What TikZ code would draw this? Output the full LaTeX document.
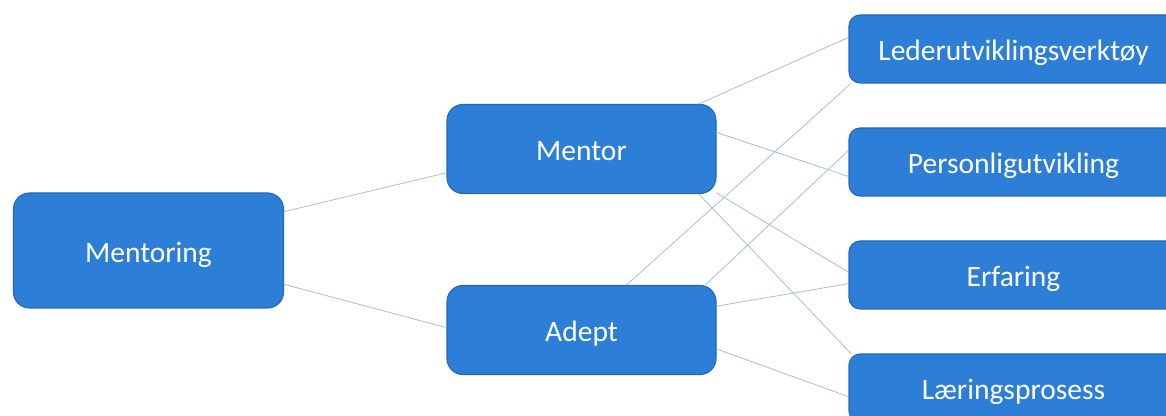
\documentclass[tikz,border=0pt]{standalone}
\usepackage{fontspec}
\setmainfont{Carlito}
\usepackage{tikz}
\usetikzlibrary{positioning,calc}
\definecolor{boxblue}{RGB}{44,126,214}
\definecolor{boxedge}{RGB}{36,104,184}
\definecolor{linkgrey}{RGB}{172,192,214}

\begin{document}
\begin{tikzpicture}[on grid, node distance=2.825cm,
    box/.style={draw=boxedge, fill=boxblue, line width=0.8pt, rounded corners=0.4cm,
      text=white, text height=0.72cm, text depth=0.14cm, font=\fontsize{21}{25}\selectfont},
    bigbox/.style={box, minimum width=6.75cm, minimum height=2.875cm},
    midbox/.style={box, minimum width=6.725cm, minimum height=2.225cm},
    goalbox/.style={box, rounded corners=0.28cm, minimum width=8.225cm, minimum height=1.7cm},
    link/.style={draw=linkgrey, line width=0.6pt}]
      \useasboundingbox (0,0) rectangle (29.15,-10.4);

      \node[bigbox] (mentoring) at (3.7125,-6.2625) {Mentoring};
      \node[midbox, above right= 2.5375cm and 10.825cm of mentoring] (mentor) {Mentor};
      \node[midbox, below= 4.525cm of mentor] (adept) {Adept};

      \node[goalbox, above right= 2.5cm and 10.8cm of mentor] (leder) {Lederutviklingsverktøy};
      \node[goalbox, below=of leder] (personlig) {Personligutvikling};
      \node[goalbox, below=of personlig] (erfaring) {Erfaring};
      \node[goalbox, below=of erfaring] (laering) {Læringsprosess};

      \draw[link] (mentoring.16)  -- (mentor.190);
      \draw[link] (mentoring.-14) -- (adept.179);

      \draw[link] (mentor.21)  -- (leder.176);
      \draw[link] (mentor.7)   -- (personlig.185);
      \draw[link] (mentor.-18) -- (erfaring.179);
      \draw[link] (mentor.-21) -- (laering.168);

      \draw[link] (adept.45)   -- (leder.192);
      \draw[link] (adept.20)   -- (personlig.176);
      \draw[link] (adept.10.5) -- (erfaring.183);
      \draw[link] (adept.-8)   -- (laering.183);
    \end{tikzpicture}
\end{document}
